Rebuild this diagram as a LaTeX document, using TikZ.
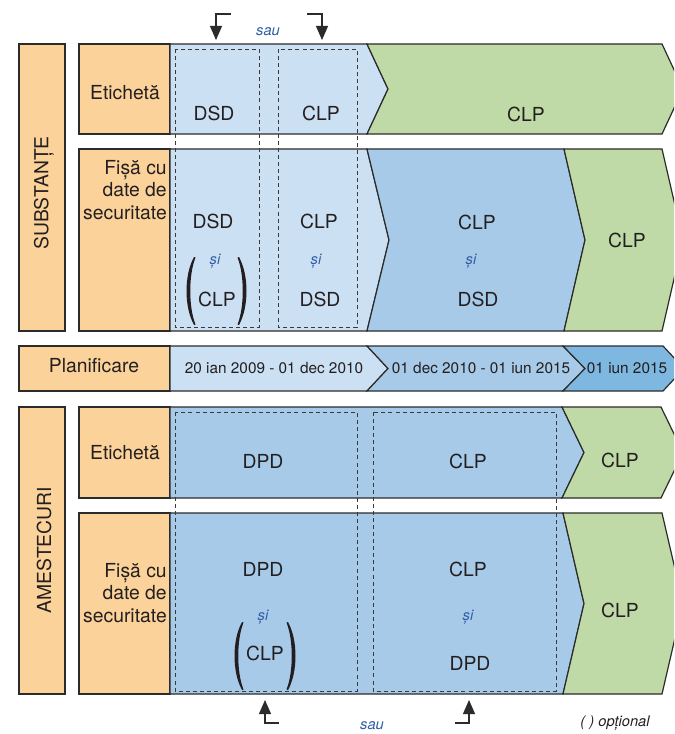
\documentclass[tikz,border=0pt]{standalone}
\usepackage{fontspec}
\setmainfont{TeX Gyre Heros}
\usetikzlibrary{arrows.meta}
\definecolor{orng}{HTML}{FBD39A}
\definecolor{lblue}{HTML}{CCE0F3}
\definecolor{mblue}{HTML}{A7CAE8}
\definecolor{dblue}{HTML}{7EB7E0}
\definecolor{grn}{HTML}{BFDAA6}
\definecolor{edgec}{HTML}{2B2B2B}
\definecolor{dashc}{HTML}{3A3A3A}
\definecolor{txt}{HTML}{231F20}
\definecolor{conjc}{HTML}{2F5DA6}
\begin{document}
\begin{tikzpicture}[x=0.75pt,y=-0.75pt,
  box/.style={draw=edgec, line width=0.9pt, line join=miter},
  dbox/.style={draw=dashc, line width=0.7pt, dash pattern=on 3pt off 2.3pt},
  lab/.style={font=\fontsize{14.5}{17}\selectfont, text=txt, inner sep=0pt},
  side/.style={font=\fontsize{14.5}{16.9}\selectfont, text=txt, inner sep=0pt, align=right, anchor=east},
  date/.style={font=\fontsize{11.5}{14}\selectfont, text=txt, inner sep=0pt},
  conj/.style={font=\fontsize{11}{13}\selectfont\itshape, text=conjc, inner sep=0pt},
  arr/.style={draw=edgec, line width=0.8pt, -{Triangle[length=10.5pt,width=9pt]}},
  lparen/.pic={\fill[txt] (0,-34) .. controls (-10,-16) and (-10,16) .. (0,34) -- (1.5,33.5) .. controls (-5.5,16) and (-5.5,-16) .. (1.5,-33.5) -- cycle;},
  rparen/.pic={\fill[txt] (0,-34) .. controls (10,-16) and (10,16) .. (0,34) -- (-1.5,33.5) .. controls (5.5,16) and (5.5,-16) .. (-1.5,-33.5) -- cycle;}
]
\useasboundingbox (0,0) rectangle (674,734);
\clip (0,0) rectangle (674,734);

% orange boxes
\filldraw[box, fill=orng] (19,44) rectangle (65,331);
\filldraw[box, fill=orng] (79,44) rectangle (170,134);
\filldraw[box, fill=orng] (79,149) rectangle (170,331);
\filldraw[box, fill=orng] (19,346) rectangle (170,391);
\filldraw[box, fill=orng] (19,407) rectangle (65,694);
\filldraw[box, fill=orng] (79,407) rectangle (170,498);
\filldraw[box, fill=orng] (79,513) rectangle (170,694);

% substances - label band
\filldraw[box, fill=lblue] (170,44) -- (367,44) -- (388,89) -- (367,134) -- (170,134) -- cycle;
\filldraw[box, fill=grn] (367,44) -- (662,44) -- (683,89) -- (662,134) -- (367,134) -- (388,89) -- cycle;
% substances - SDS band
\filldraw[box, fill=lblue] (170,149) -- (367,149) -- (389,240) -- (367,331) -- (170,331) -- cycle;
\filldraw[box, fill=mblue] (367,149) -- (564,149) -- (585,240) -- (564,331) -- (367,331) -- (389,240) -- cycle;
\filldraw[box, fill=grn] (564,149) -- (662,149) -- (683,240) -- (662,331) -- (564,331) -- (585,240) -- cycle;
% planning
\filldraw[box, fill=lblue] (170,346) -- (367,346) -- (388,368.5) -- (367,391) -- (170,391) -- cycle;
\filldraw[box, fill=mblue] (367,346) -- (563,346) -- (585,368.5) -- (563,391) -- (367,391) -- (388,368.5) -- cycle;
\filldraw[box, fill=dblue] (563,346) -- (663,346) -- (684,368.5) -- (663,391) -- (563,391) -- (585,368.5) -- cycle;
% mixtures - label band
\filldraw[box, fill=mblue] (170,407) -- (562,407) -- (584,452.5) -- (562,498) -- (170,498) -- cycle;
\filldraw[box, fill=grn] (562,407) -- (661,407) -- (683,452.5) -- (661,498) -- (562,498) -- (584,452.5) -- cycle;
% mixtures - SDS band
\filldraw[box, fill=mblue] (170,513) -- (563,513) -- (584,603.5) -- (563,694) -- (170,694) -- cycle;
\filldraw[box, fill=grn] (563,513) -- (662,513) -- (683,603.5) -- (662,694) -- (563,694) -- (584,603.5) -- cycle;

% dashed frames
\draw[dbox] (175,49) rectangle (259,327);
\draw[dbox] (278,49) rectangle (357,327);
\draw[dbox] (175,412) rectangle (357,691);
\draw[dbox] (373,412) rectangle (556,691);

% left labels
\node[lab, rotate=90] (subst) at (44,193) {SUBSTANȚE};
\node[lab, rotate=90] (amest) at (44,550) {AMESTECURI};
\node[lab] (et1) at (125,93) {Etichetă};
\node[side] (fs1) at (167,190) {Fișă cu\\date de\\securitate};
\node[lab] (plan) at (94,366) {Planificare};
\node[lab] (et2) at (125,453) {Etichetă};
\node[side] (fs2) at (167,593) {Fișă cu\\date de\\securitate};

% substances texts
\node[lab] (s1a) at (214,113) {DSD};
\node[lab] (s1b) at (321,113) {CLP};
\node[lab] (s1c) at (526,114) {CLP};
\node[lab] (s2a) at (213,221) {DSD};
\node[conj] (s2b) at (215,261) {și};
\node[lab] (s2c) at (217,299) {CLP};
\pic at (194,291) {lparen};
\pic at (239,291) {rparen};
\node[lab] (s2d) at (319,221) {CLP};
\node[conj] (s2e) at (316,261) {și};
\node[lab] (s2f) at (320,299) {DSD};
\node[lab] (s2g) at (477,222) {CLP};
\node[conj] (s2h) at (471,261) {și};
\node[lab] (s2i) at (478,299) {DSD};
\node[lab] (s2j) at (627,240) {CLP};

% planning texts
\node[date] (d1) at (274,368) {20 ian 2009 - 01 dec 2010};
\node[date] (d2) at (481,368) {01 dec 2010 - 01 iun 2015};
\node[date] (d3) at (627,368) {01 iun 2015};

% mixtures texts
\node[lab] (m1a) at (263,461) {DPD};
\node[lab] (m1b) at (468,461) {CLP};
\node[lab] (m1c) at (620,460) {CLP};
\node[lab] (m2a) at (263,569) {DPD};
\node[conj] (m2b) at (263,617) {și};
\node[lab] (m2c) at (265,653) {CLP};
\pic at (242,656) {lparen};
\pic at (288,656) {rparen};
\node[lab] (m2d) at (468,569) {CLP};
\node[conj] (m2e) at (468,617) {și};
\node[lab] (m2f) at (470,663) {DPD};
\node[lab] (m2g) at (620,610) {CLP};

% "sau" selectors
\node[conj] (sau1) at (268,32) {sau};
\node[conj] (sau2) at (372,726) {sau};
\node[conj, text=txt] (opt) at (615,723) {( ) opțional};

\coordinate (t1s) at (231,14);
\coordinate (t1c) at (216,14);
\coordinate (t1e) at (216,40);
\coordinate (t2s) at (307,14);
\coordinate (t2c) at (322,14);
\coordinate (t2e) at (322,40);
\coordinate (b1s) at (279,723);
\coordinate (b1c) at (265,723);
\coordinate (b1e) at (265,700);
\coordinate (b2s) at (455,723);
\coordinate (b2c) at (469,723);
\coordinate (b2e) at (469,700);
\draw[arr] (t1s) -- (t1c) -- (t1e);
\draw[arr] (t2s) -- (t2c) -- (t2e);
\draw[arr] (b1s) -- (b1c) -- (b1e);
\draw[arr] (b2s) -- (b2c) -- (b2e);
\end{tikzpicture}
\end{document}
